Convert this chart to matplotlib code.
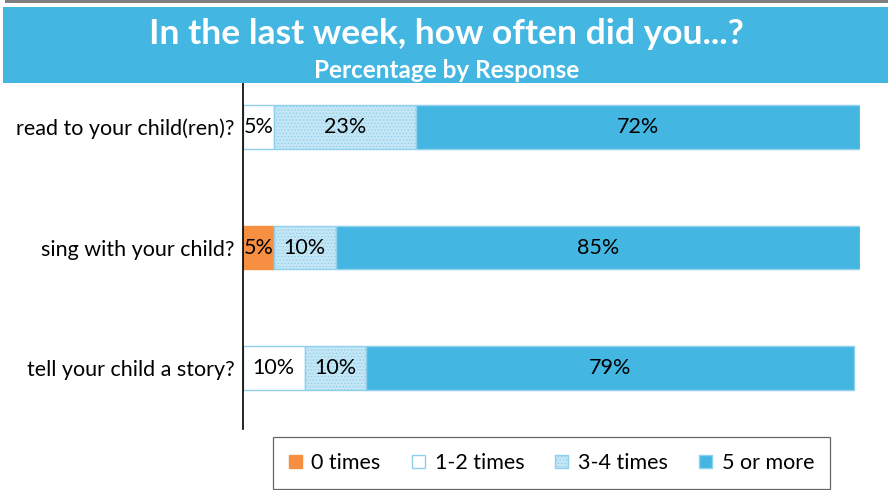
import matplotlib
matplotlib.use("Agg")
import matplotlib.pyplot as plt
from matplotlib.patches import Rectangle
import numpy as np

plt.rcParams['font.family'] = ['Lato', 'DejaVu Sans']
plt.rcParams['hatch.color'] = '#7FCBEA'
plt.rcParams['hatch.linewidth'] = 0.6

questions = ["read to your child(ren)?", "sing with your child?", "tell your child a story?"]
responses = ["0 times", "1-2 times", "3-4 times", "5 or more"]
zero_times = [0, 5, 0]
one_two = [5, 0, 10]
three_four = [23, 10, 10]
five_more = [72, 85, 79]

BLUE = '#43B7E1'
EDGE = '#8FD0EC'
FS = 15.5
styles = [
    dict(facecolor='#F78F43', edgecolor='#F78F43', hatch=None),
    dict(facecolor='white', edgecolor=EDGE, hatch=None),
    dict(facecolor='#C4E6F5', edgecolor=EDGE, hatch='.....'),
    dict(facecolor=BLUE, edgecolor=EDGE, hatch=None),
]

fig = plt.figure(figsize=(8.88, 4.90), dpi=100)

# top banner
fig.patches.append(Rectangle((5 / 888, 487 / 490), 883 / 888, 3 / 490,
                             transform=fig.transFigure, facecolor='#7F7F7F', edgecolor='none'))
fig.patches.append(Rectangle((3 / 888, 407 / 490), 885 / 888, 76 / 490,
                             transform=fig.transFigure, facecolor=BLUE, edgecolor='none'))
fig.text(446 / 888, 456 / 490, "In the last week, how often did you...?", color='white',
         fontsize=25.5, fontweight='bold', ha='center', va='center')
fig.text(447 / 888, 419 / 490, "Percentage by Response", color='white',
         fontsize=17.5, fontweight='bold', ha='center', va='center')

ax = fig.add_axes([243 / 888, 61 / 490, 617 / 888, 346 / 490])
y = np.arange(len(questions))
series = [zero_times, one_two, three_four, five_more]
left = np.zeros(len(questions))
for vals, st in zip(series, styles):
    vals = np.array(vals, dtype=float)
    ax.barh(y, vals, left=left, height=0.365, facecolor=st['facecolor'],
            edgecolor=st['edgecolor'], hatch=st['hatch'], linewidth=1.0)
    for yi, (l, v) in enumerate(zip(left, vals)):
        if v > 0:
            ax.text(l + v / 2, yi, f"{v:.0f}%", ha='center', va='center',
                    fontsize=FS, color='black')
    left += vals

ax.set_xlim(0, 100)
ax.set_ylim(2.506, -0.365)
ax.set_yticks(y)
ax.set_yticklabels(questions, fontsize=FS)
ax.tick_params(axis='y', length=0, pad=6)
ax.set_xticks([])
for s in ['top', 'right', 'bottom']:
    ax.spines[s].set_visible(False)
ax.spines['left'].set_color('black')
ax.spines['left'].set_linewidth(1.2)

# legend
handles = [Rectangle((0, 0), 1, 1, facecolor=st['facecolor'], edgecolor=st['edgecolor'],
                     hatch=st['hatch'], linewidth=1.0) for st in styles]
leg = fig.legend(handles, responses, loc='center', bbox_to_anchor=(551.5 / 888, 27 / 490),
                 ncol=4, frameon=True, fontsize=FS, handlelength=0.6, handleheight=0.6,
                 handletextpad=0.45, columnspacing=1.45, fancybox=False, borderpad=0.75)
leg.get_frame().set_edgecolor('#404040')
leg.get_frame().set_linewidth(0.9)

fig.savefig("out.png", dpi=100)
